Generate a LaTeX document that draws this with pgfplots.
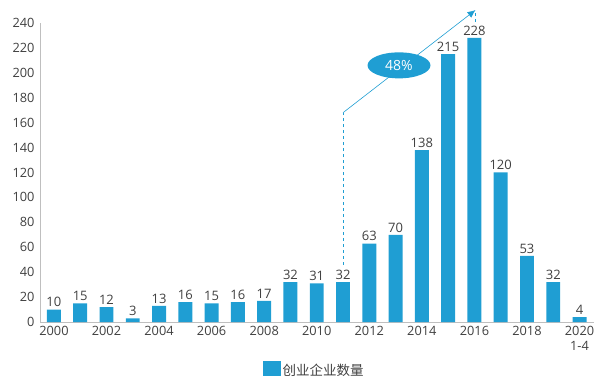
\documentclass[border=0pt]{standalone}
\usepackage{pgfplots}
\pgfplotsset{compat=1.18}
\usepackage{fontspec}
\setmainfont{Open Sans}
\newfontfamily\cjk{Noto Sans CJK SC}
\usetikzlibrary{arrows.meta,shapes.geometric}
\definecolor{barblue}{HTML}{1F9ED3}
\definecolor{txt}{HTML}{404040}
\definecolor{axgray}{HTML}{BFBFBF}
\begin{document}
\begin{tikzpicture}
\begin{axis}[
  at={(0,0)}, anchor=south west,
  scale only axis,
  width=554bp, height=299bp,
  xmin=-0.53, xmax=20.55,
  ymin=0, ymax=240,
  clip=false,
  axis x line*=bottom, axis y line*=left,
  axis line style={axgray, line width=0.8pt, -},
  major tick length=0pt,
  ytick={0,20,...,240},
  xtick={0,2,...,20},
  xticklabels={2000,2002,2004,2006,2008,2010,2012,2014,2016,2018,{2020\\1-4}},
  xticklabel style={align=center, font=\fontsize{12.8bp}{15bp}\selectfont, text=txt, yshift=-1bp},
  yticklabel style={font=\fontsize{12.8bp}{15bp}\selectfont, text=txt, xshift=-2bp},
  /pgf/number format/assume math mode=true,
  ybar, bar width=0.53,
  nodes near coords,
  nodes near coords style={font=\fontsize{13bp}{15bp}\selectfont, text=txt, yshift=-1bp},
  legend style={at={(0.495,-0.16)}, anchor=center, draw=none, fill=none,
    font=\cjk\fontsize{13.5bp}{15bp}\selectfont, text=txt},
  legend image code/.code={\fill[barblue] (-2bp,-6bp) rectangle (16bp,9bp);},
]
\addplot[fill=barblue, draw=none] coordinates {
(0,10) (1,15) (2,12) (3,3) (4,13) (5,16) (6,15) (7,16) (8,17) (9,32)
(10,31) (11,32) (12,63) (13,70) (14,138) (15,215) (16,228) (17,120)
(18,53) (19,32) (20,4)};
\addlegendentry{创业企业数量}
\draw[barblue, dashed, line width=0.6pt] (axis cs:11,46) -- (axis cs:11,168);
\draw[barblue, line width=0.6pt, -{Latex[length=8bp,width=7bp]}] (axis cs:11,168) -- (axis cs:16.04,250.4);
\draw[barblue, dashed, line width=0.6pt] (axis cs:16.04,248) -- (axis cs:16.04,241);
\node[ellipse, fill=barblue, text=white, minimum width=63bp, minimum height=26bp, inner sep=0pt,
  font=\fontsize{14bp}{16bp}\selectfont] at (axis cs:13.13,206) {48\%};
\end{axis}
\useasboundingbox (-40bp,-64bp) rectangle (561bp,322bp);
\end{tikzpicture}
\end{document}
